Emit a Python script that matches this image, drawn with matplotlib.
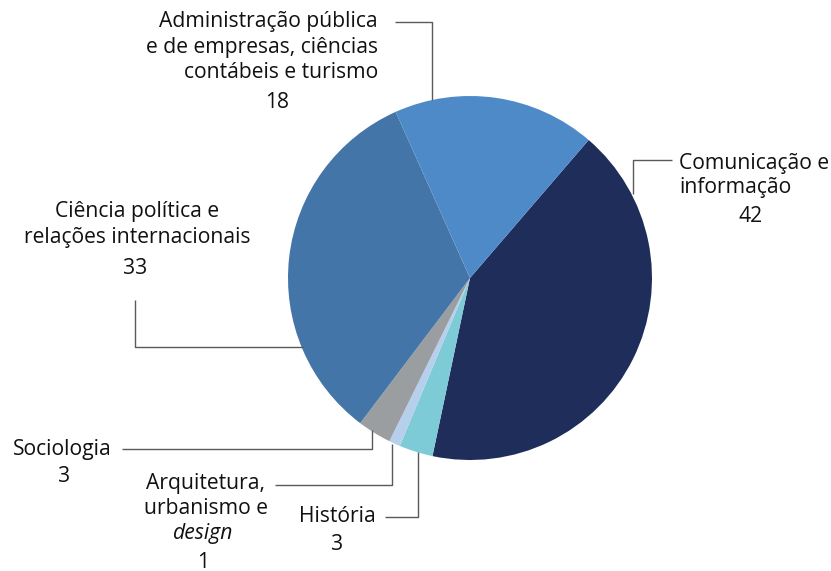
import numpy as np
import matplotlib.pyplot as plt

# Distribuição por área do conhecimento
areas = ['Comunicação e informação', 'História', 'Arquitetura, urbanismo e design',
         'Sociologia', 'Ciência política e relações internacionais',
         'Administração pública e de empresas, ciências contábeis e turismo']
valores = [42, 3, 1, 3, 33, 18]
cores = ['#1f2d5a', '#7ecbd8', '#b5cfec', '#9a9ea1', '#4375a8', '#4f8ac8']

plt.rcParams['font.family'] = ['Open Sans', 'DejaVu Sans']
W, H = 831, 571
fig = plt.figure(figsize=(W / 100, H / 100), dpi=100)
ax = fig.add_axes([0, 0, 1, 1])

cx, cy, r = 470, H - 278, 182
wedges, _ = ax.pie(valores, colors=cores, startangle=49.3, counterclock=False,
                   center=(cx, cy), radius=r, frame=True,
                   wedgeprops=dict(linewidth=0))
ax.set_xlim(0, W)
ax.set_ylim(0, H)
ax.set_aspect('equal')
ax.axis('off')

def py(y):
    return H - y

fs = 15.2
tc = '#111111'
lc = '#5a5a5a'

def leader(pts):
    xs = [p[0] for p in pts]
    ys = [py(p[1]) for p in pts]
    ax.plot(xs, ys, color=lc, lw=1.0, solid_capstyle='butt')

# linhas de chamada
leader([(395, 22), (432, 22), (432, 100)])
leader([(672, 160), (633, 160), (633, 194)])
leader([(135, 300), (135, 347), (303, 347)])
leader([(122, 449), (372, 449), (372, 430)])
leader([(275, 485), (392, 485), (392, 444)])
leader([(385, 517), (418, 517), (418, 452)])

def txt(x, y, s, ha='center', **kw):
    ax.text(x, py(y), s, ha=ha, va='center', fontsize=fs, color=tc, **kw)

# Administração
txt(378, 22, 'Administração pública', ha='right')
txt(378, 47, 'e de empresas, ciências', ha='right')
txt(378, 73, 'contábeis e turismo', ha='right')
txt(277, 103, str(valores[5]))
# Comunicação
txt(679, 163, 'Comunicação e', ha='left')
txt(679, 188, 'informação', ha='left')
txt(751, 217, str(valores[0]))
# Ciência política
txt(137, 212, 'Ciência política e')
txt(137, 237, 'relações internacionais')
txt(135, 268, str(valores[4]))
# Sociologia
txt(62, 449, 'Sociologia')
txt(64, 477, str(valores[3]))
# Arquitetura
txt(206, 483, 'Arquitetura,')
txt(206, 509, 'urbanismo e')
txt(203, 533, 'design', style='italic')
txt(203, 562, str(valores[2]))
# História
txt(337, 517, 'História')
txt(337, 545, str(valores[1]))

fig.savefig('out.png', dpi=100, facecolor='white')
